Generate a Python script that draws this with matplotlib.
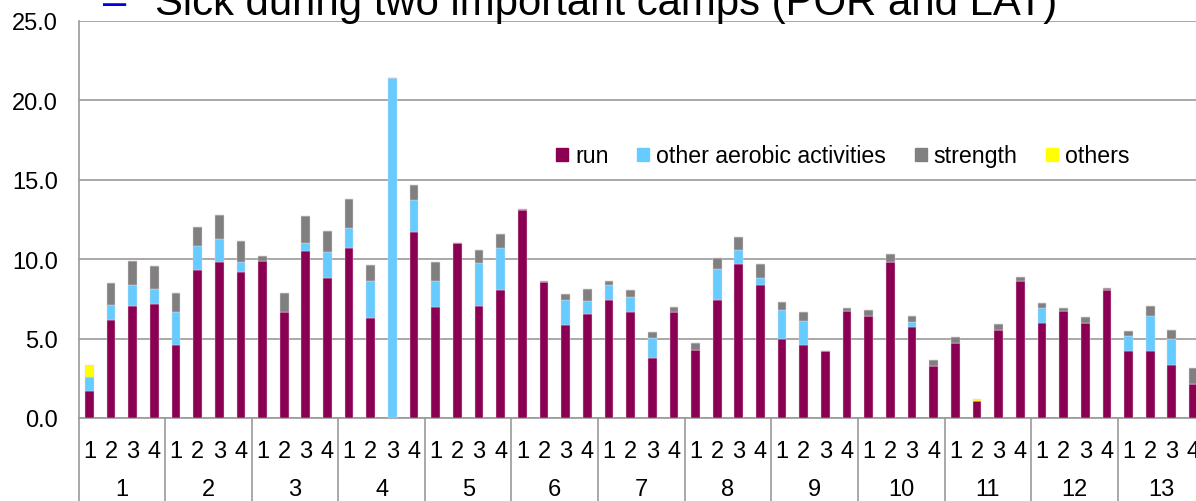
import numpy as np
import matplotlib
matplotlib.use("Agg")
import matplotlib.pyplot as plt
from matplotlib.patches import Patch

plt.rcParams.update({"font.family": ["Liberation Sans", "DejaVu Sans"]})

# weekly training hours, 13 periods x 4 weeks
periods = [str(p) for p in range(1, 14)]
weeks = ["1", "2", "3", "4"]
run = [1.7, 6.2, 7.05, 7.15, 4.6, 9.3, 9.8, 9.2, 9.9, 6.7, 10.5, 8.8,
       10.7, 6.3, 0, 11.7, 7.0, 11.0, 7.05, 8.05, 13.1, 8.55, 5.85, 6.55,
       7.45, 6.7, 3.8, 6.7, 4.3, 7.45, 9.7, 8.35, 4.95, 4.6, 4.2, 6.75,
       6.45, 9.8, 5.75, 3.3, 4.75, 1.05, 5.55, 8.6, 6.0, 6.75, 6.0, 8.05,
       4.2, 4.2, 3.35, 2.15]
aerobic = [0.9, 0.9, 1.35, 1.0, 2.1, 1.5, 1.45, 0.6, 0, 0, 0.5, 1.65,
           1.25, 2.35, 21.4, 2.0, 1.6, 0, 2.7, 2.65, 0, 0, 1.6, 0.8,
           0.95, 0.95, 1.25, 0, 0, 1.95, 0.9, 0.45, 1.85, 1.5, 0, 0,
           0, 0, 0.3, 0, 0, 0, 0, 0, 0.95, 0, 0, 0,
           0.95, 2.25, 1.65, 0]
strength = [0, 1.4, 1.5, 1.45, 1.15, 1.2, 1.55, 1.35, 0.3, 1.15, 1.75, 1.3,
            1.85, 1.0, 0, 1.0, 1.2, 0, 0.85, 0.9, 0.05, 0.1, 0.35, 0.75,
            0.25, 0.4, 0.35, 0.3, 0.4, 0.7, 0.8, 0.9, 0.5, 0.6, 0, 0.2,
            0.35, 0.5, 0.4, 0.35, 0.35, 0, 0.4, 0.3, 0.3, 0.2, 0.35, 0.15,
            0.35, 0.6, 0.55, 1.0]
others = [0.75] + [0] * 40 + [0.15] + [0] * 10

series = [("run", run, "#8B0052"),
          ("other aerobic activities", aerobic, "#66CCFF"),
          ("strength", strength, "#808080"),
          ("others", others, "#FFFF00")]

W, H = 1196, 502
fig = plt.figure(figsize=(W / 100, H / 100), dpi=100)
left, bottom, top = 78.5 / W, 83 / H, 480 / H
ax = fig.add_axes([left, bottom, 1 - left, top - bottom])

x = np.arange(len(run))
base = np.zeros(len(run))
for name, vals, col in series:
    vals = np.array(vals)
    ax.bar(x, vals, 0.4, bottom=base, color=col, edgecolor="#e6d6e0",
           linewidth=0.3, zorder=3)
    base += vals

ax.set_ylim(0, 25)
ax.set_xlim(-0.5, -0.5 + (W - 78.5) / 21.65)
ax.set_yticks(np.arange(0, 26, 5))
ax.set_yticklabels([f"{v:.1f}" for v in np.arange(0, 26, 5)], fontsize=17)
ax.tick_params(axis="y", length=0, pad=15)
ax.tick_params(axis="x", length=0, labelbottom=False)
ax.grid(axis="y", color="#999999", lw=1.2, zorder=0)
for s in ["top", "right"]:
    ax.spines[s].set_visible(False)
for s in ["left", "bottom"]:
    ax.spines[s].set_color("#999999")
    ax.spines[s].set_linewidth(1.2)

# category table under the axis
tr = ax.get_xaxis_transform()
for k, p in enumerate(periods):
    ax.plot([4 * k - 0.5] * 2, [0, -0.25], color="#999999", lw=1.2,
            transform=tr, clip_on=False)
    for j, w in enumerate(weeks):
        ax.text(4 * k + j, -0.083, w, transform=tr, ha="center",
                va="center", fontsize=17)
    ax.text(4 * k + 1.5, -0.179, p, transform=tr, ha="center",
            va="center", fontsize=17)

handles = [Patch(color=c, label=n) for n, _, c in series]
ax.legend(handles=handles, loc="center left", bbox_to_anchor=(0.409, 0.66),
          ncol=4, frameon=False, fontsize=16.7, handlelength=0.5,
          handleheight=0.5, handletextpad=0.3, columnspacing=1.25)

fig.text(103 / W, 1 - 15 / H, "–", color="#0000EE", fontsize=30,
         va="baseline", fontweight="light")
fig.text(155 / W, 1 - 15 / H, "Sick during two important camps (POR and LAT)",
         fontsize=30.2, va="baseline")

fig.savefig("out.png", dpi=100)
